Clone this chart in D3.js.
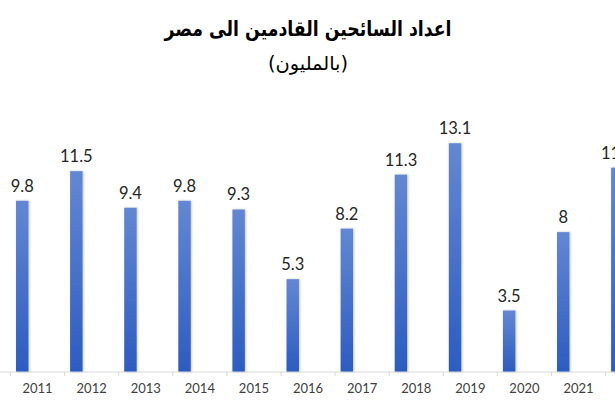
<!DOCTYPE html>
<html><head><meta charset="utf-8">
<script src="https://cdn.jsdelivr.net/npm/d3@7"></script>
<style>html,body{margin:0;padding:0;background:#fff;overflow:hidden}</style>
</head><body>
<svg id="c" width="615" height="410"></svg>
<script>
const years = ["2011","2012","2013","2014","2015","2016","2017","2018","2019","2020","2021","2022"];
const visitors = [9.8, 11.5, 9.4, 9.8, 9.3, 5.3, 8.2, 11.3, 13.1, 3.5, 8, 11.7];
const title = "اعداد السائحين القادمين الى مصر";
const subtitle = "(بالمليون)";

const svg = d3.select("#c");
const defs = svg.append("defs");
const g = defs.append("linearGradient").attr("id","bg").attr("x1",0).attr("y1",0).attr("x2",0).attr("y2",1);
g.append("stop").attr("offset","0%").attr("stop-color","#6387d2");
g.append("stop").attr("offset","100%").attr("stop-color","#2c5cc0");
const f = defs.append("filter").attr("id","sh").attr("x","-30%").attr("y","-10%").attr("width","160%").attr("height","120%");
f.append("feDropShadow").attr("dx",0.8).attr("dy",0).attr("stdDeviation",0.8).attr("flood-color","#000").attr("flood-opacity",0.25);

const x = d3.scaleBand().domain(years).range([10.5, 10.5 + 54.1*years.length]).paddingInner(0).paddingOuter(0);
const y = d3.scaleLinear().domain([0, 14]).range([371.5, 127.6]);
const bw = x.bandwidth();

// axis (labels for visible categories only; the reference crops the last one)
const axis = svg.append("g").attr("transform","translate(0,372)")
  .call(d3.axisBottom(x).tickSize(0).tickPadding(12));
axis.select(".domain").remove();
axis.selectAll(".tick").filter(d => x(d) + bw/2 + 14 > 615).remove();
axis.selectAll("text").attr("font-family","Lato, 'Liberation Sans', sans-serif").attr("font-size",13).attr("fill","#404040");
svg.append("line").attr("x1",0).attr("x2",615).attr("y1",372).attr("y2",372).attr("stroke","#d9d9d9").attr("stroke-width",1);
const bounds = years.map(d => x(d)).concat([x(years[years.length-1]) + bw]);
svg.selectAll("line.tk").data(bounds).enter().append("line").attr("class","tk")
  .attr("x1",d=>d).attr("x2",d=>d).attr("y1",372).attr("y2",376).attr("stroke","#d9d9d9");

// bars
svg.selectAll("rect.bar").data(years).enter().append("rect").attr("class","bar")
  .attr("x",(d)=>x(d) + bw*0.102)
  .attr("width", bw*0.23)
  .attr("y",(d,i)=>y(visitors[i]))
  .attr("height",(d,i)=>y(0)-y(visitors[i]))
  .attr("fill","url(#bg)")
  .attr("filter","url(#sh)");

// labels
svg.selectAll("text.lbl").data(years).enter().append("text").attr("class","lbl")
  .attr("x",(d)=>x(d) + bw*0.102 + bw*0.115)
  .attr("y",(d,i)=>y(visitors[i]) - 9)
  .attr("text-anchor","middle")
  .attr("font-family","Lato, 'Liberation Sans', sans-serif")
  .attr("font-size",16.5)
  .attr("fill","#262626")
  .text((d,i)=>visitors[i]);

// titles
svg.append("text").attr("x",308).attr("y",36).attr("text-anchor","middle")
  .attr("font-family","'DejaVu Sans', sans-serif").attr("font-weight","bold").attr("font-size",21)
  .attr("textLength",287).attr("lengthAdjust","spacingAndGlyphs")
  .attr("fill","#000").attr("direction","rtl").attr("unicode-bidi","plaintext").text(title);
svg.append("text").attr("x",308).attr("y",70).attr("text-anchor","middle")
  .attr("font-family","'DejaVu Sans', sans-serif").attr("font-size",19)
  .attr("textLength",80).attr("lengthAdjust","spacingAndGlyphs")
  .attr("fill","#000").attr("direction","rtl").attr("unicode-bidi","plaintext").text(subtitle);
</script>
</body></html>
